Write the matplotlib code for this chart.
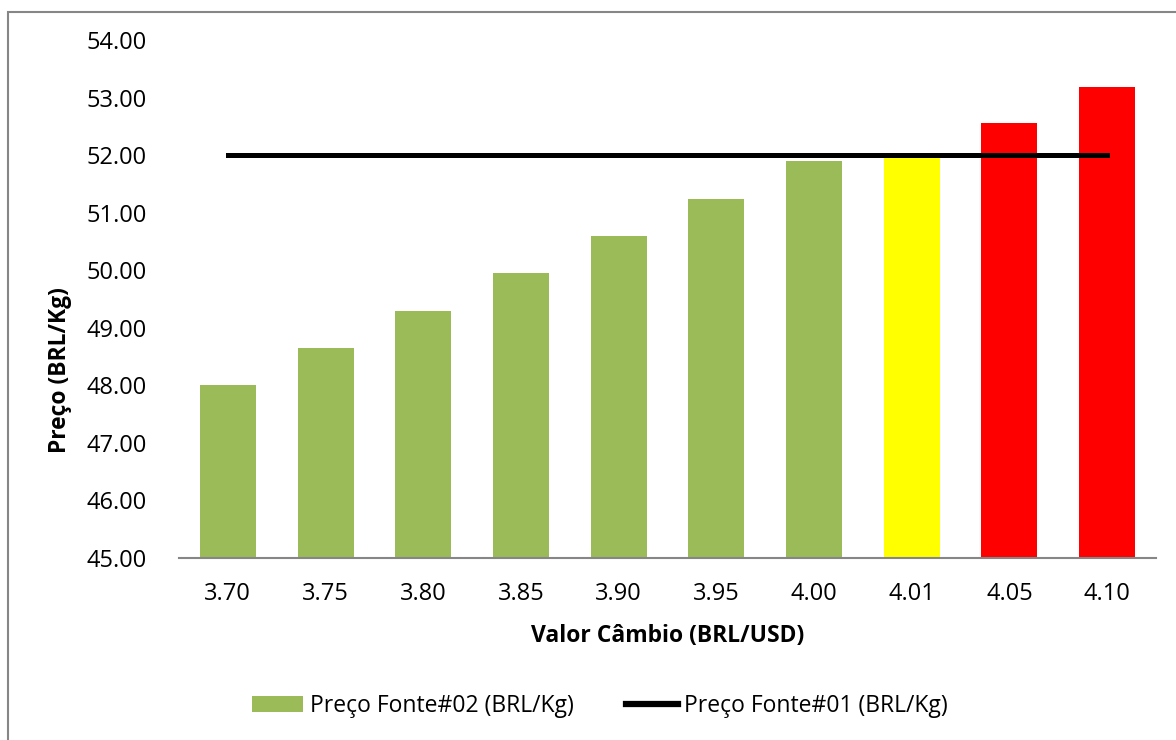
import matplotlib.pyplot as plt
from matplotlib.patches import Rectangle, Patch
from matplotlib.lines import Line2D

plt.rcParams['font.family'] = ['Open Sans', 'DejaVu Sans']

# Taxa de câmbio e preços
cambio = ['3.70', '3.75', '3.80', '3.85', '3.90', '3.95', '4.00', '4.01', '4.05', '4.10']
preco_fonte02 = [48.01, 48.65, 49.30, 49.95, 50.59, 51.24, 51.89, 51.95, 52.55, 53.19]
preco_fonte01 = [52.00] * len(cambio)
cores = ['#9BBB59'] * 7 + ['#FFFF00'] + ['#FF0000'] * 2

fig = plt.figure(figsize=(11.76, 7.4), dpi=100)
ax = fig.add_axes([179 / 1176, 1 - 558 / 740, (1156 - 179) / 1176, (558 - 40) / 740])

x = range(len(cambio))
ax.bar(x, [v - 45 for v in preco_fonte02], bottom=45, width=0.573, color=cores, zorder=2)
ax.plot(x, preco_fonte01, color='black', linewidth=3.6, zorder=3)

ax.set_xlim(-0.5, len(cambio) - 0.5)
ax.set_ylim(45, 54)
ax.set_yticks(range(45, 55))
ax.set_yticklabels([f'{v:.2f}' for v in range(45, 55)])
ax.set_xticks(list(x))
ax.set_xticklabels(cambio)
ax.tick_params(axis='both', length=0, labelsize=17, colors='black')
ax.tick_params(axis='y', pad=23)
ax.tick_params(axis='x', pad=17)

for s in ['top', 'right', 'left']:
    ax.spines[s].set_visible(False)
ax.spines['bottom'].set_color('#868686')
ax.spines['bottom'].set_linewidth(1.5)

ax.set_xlabel('Valor Câmbio (BRL/USD)', fontsize=16.5, fontweight='bold', labelpad=13)
ax.set_ylabel('Preço (BRL/Kg)', fontsize=16.5, fontweight='bold')
ax.yaxis.set_label_coords(72 / 1176, 0.5, transform=fig.transFigure)

handles = [Patch(facecolor='#9BBB59', edgecolor='none'),
           Line2D([0], [0], color='black', linewidth=4.5)]
fig.legend(handles, ['Preço Fonte#02 (BRL/Kg)', 'Preço Fonte#01 (BRL/Kg)'],
           loc='center', bbox_to_anchor=(600 / 1176, 1 - 706 / 740), ncol=2,
           frameon=False, fontsize=16.5, handlelength=2.25, handleheight=0.75,
           handletextpad=0.28, columnspacing=2.3)

# moldura do gráfico
fig.patches.append(Rectangle((8 / 1176, -0.1), 1.2, 1.1 - 12 / 740, transform=fig.transFigure,
                             fill=False, edgecolor='#868686', linewidth=1.5))

fig.savefig('out.png', dpi=100, facecolor='white')
